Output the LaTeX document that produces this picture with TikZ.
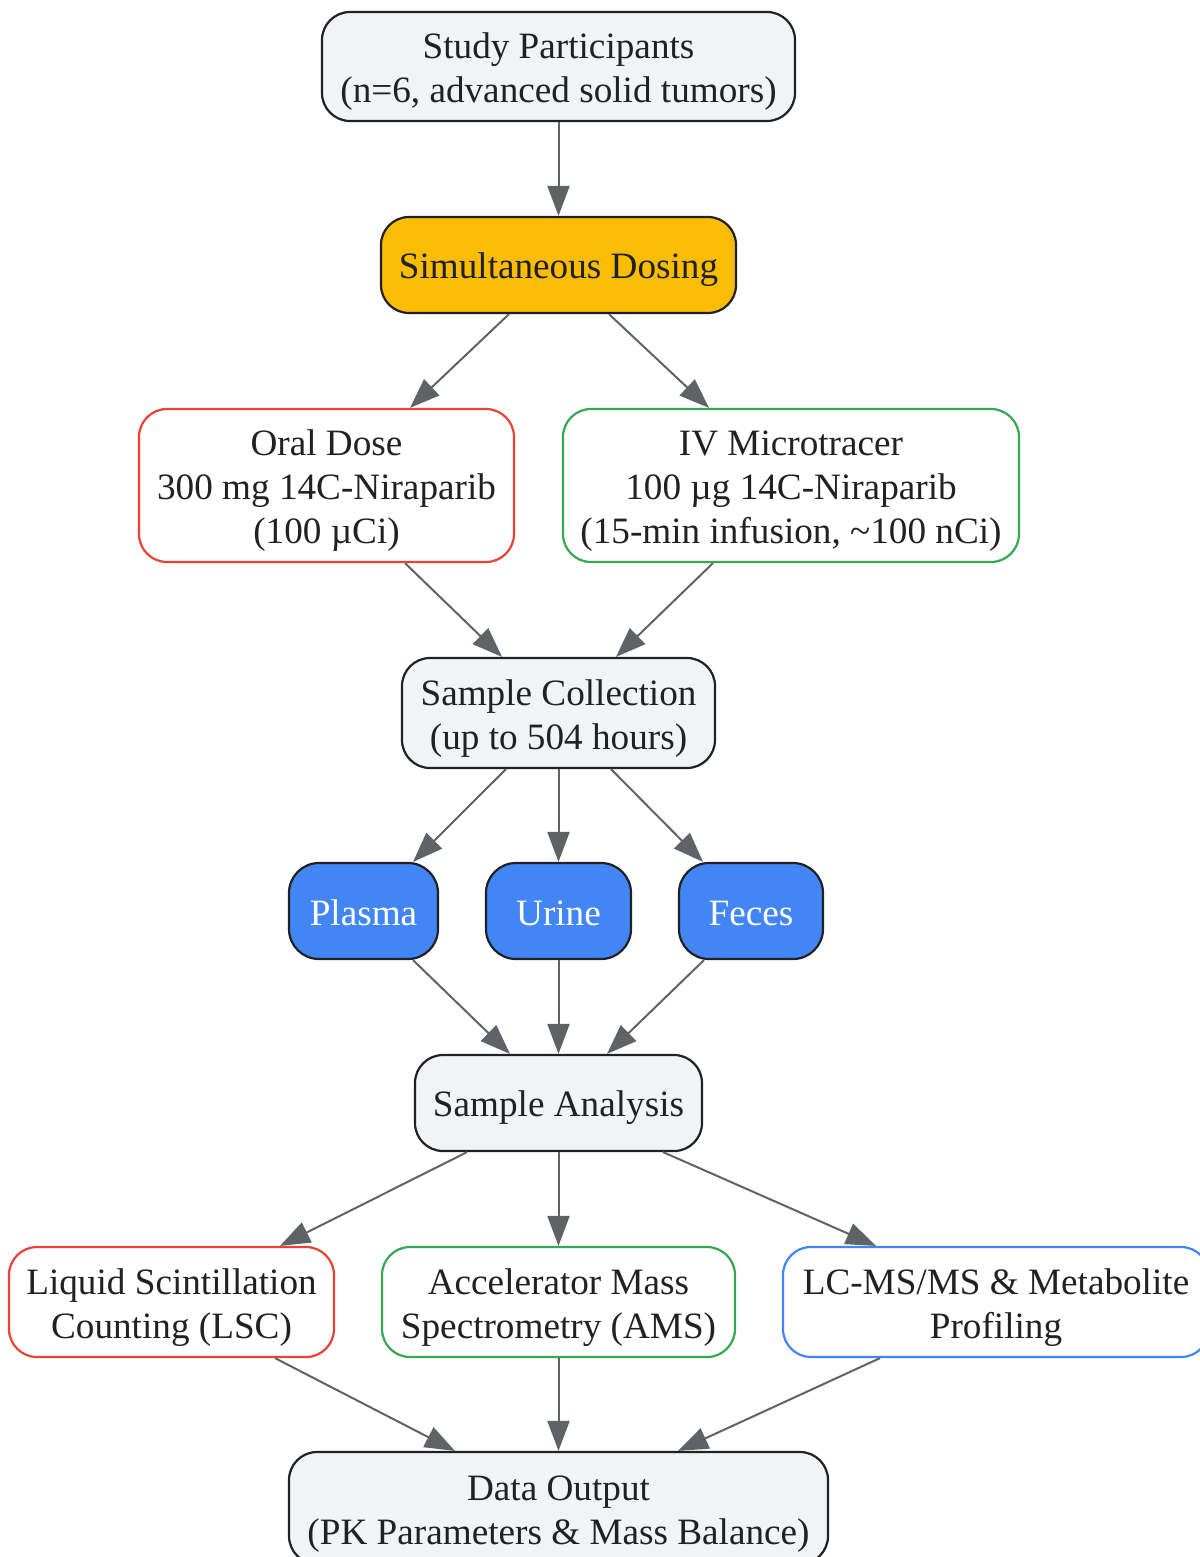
\documentclass[tikz,border=0pt]{standalone}
\usepackage{fontspec}
\setmainfont{Liberation Serif}
\usetikzlibrary{arrows.meta,calc}
\definecolor{gfill}{HTML}{F1F3F4}
\definecolor{bord}{HTML}{202124}
\definecolor{txt}{HTML}{202124}
\definecolor{gyellow}{HTML}{FBBC04}
\definecolor{gred}{HTML}{EA4335}
\definecolor{ggreen}{HTML}{34A853}
\definecolor{gblue}{HTML}{4285F4}
\definecolor{arr}{HTML}{5F6368}
\newcommand\mytopstrut{\rule{0pt}{18pt}}
\newcommand\mybotstrut{\rule[-4pt]{0pt}{4pt}}
\begin{document}
\begin{tikzpicture}[x=0.5pt,y=-0.5pt,
  box/.style={draw=bord, line width=1.1pt, rounded corners=14pt, align=center, inner sep=0pt,
    font=\fontsize{18.6}{22}\selectfont, text=txt},
  graybox/.style={box, fill=gfill},
  yellowbox/.style={box, fill=gyellow},
  redbox/.style={box, fill=white, draw=gred},
  greenbox/.style={box, fill=white, draw=ggreen},
  blueline/.style={box, fill=white, draw=gblue},
  bluebox/.style={box, fill=gblue, text=white, rounded corners=15pt},
  conn/.style={draw=arr, line width=1pt, -{Triangle[length=15pt,width=11pt]}}]
\useasboundingbox[fill=white] (0,0) rectangle (1199,1557);

\node[graybox, minimum width=236.5pt, minimum height=54.5pt] (study) at (558.5,66.5)
  {\mytopstrut Study Participants\\(n=6, advanced solid tumors)\mybotstrut};
\node[yellowbox, minimum width=177.5pt, minimum height=48pt] (sim) at (558.5,265)
  {\mytopstrut Simultaneous Dosing\mybotstrut};
\node[redbox, minimum width=187.5pt, minimum height=76.5pt] (oral) at (326.5,485.5)
  {\mytopstrut Oral Dose\\300 mg 14C-Niraparib\\(100 µCi)\mybotstrut};
\node[greenbox, minimum width=228pt, minimum height=76.5pt] (iv) at (791,485.5)
  {\mytopstrut IV Microtracer\\100 µg 14C-Niraparib\\(15-min infusion, \textasciitilde100 nCi)\mybotstrut};
\node[graybox, minimum width=156.5pt, minimum height=55pt] (coll) at (558.5,713)
  {\mytopstrut Sample Collection\\(up to 504 hours)\mybotstrut};
\node[bluebox, minimum width=74.5pt, minimum height=48pt] (plasma) at (363.5,911)
  {\mytopstrut Plasma\mybotstrut};
\node[bluebox, minimum width=72.5pt, minimum height=48pt] (urine) at (558.5,911)
  {\mytopstrut Urine\mybotstrut};
\node[bluebox, minimum width=72pt, minimum height=48pt] (feces) at (751,911)
  {\mytopstrut Feces\mybotstrut};
\node[graybox, minimum width=143.5pt, minimum height=48pt] (ana) at (558.5,1103)
  {\mytopstrut Sample Analysis\mybotstrut};
\node[redbox, minimum width=162.5pt, minimum height=55pt] (lsc) at (171.5,1302)
  {\mytopstrut Liquid Scintillation\\Counting (LSC)\mybotstrut};
\node[greenbox, minimum width=176.5pt, minimum height=55pt] (ams) at (558.5,1302)
  {\mytopstrut Accelerator Mass\\Spectrometry (AMS)\mybotstrut};
\node[blueline, minimum width=213pt, minimum height=55pt] (lcms) at (996,1302)
  {\mytopstrut LC-MS/MS \& Metabolite\\Profiling\mybotstrut};
\node[graybox, minimum width=269.5pt, minimum height=56pt] (data) at (558.5,1508)
  {\mytopstrut Data Output\\(PK Parameters \& Mass Balance)\mybotstrut};

\draw[conn] (study.south) -- (sim.north);
\draw[conn] ($(sim.south)+(-49.5,0)$) -- ($(oral.north)+(83.5,0)$);
\draw[conn] ($(sim.south)+(50.5,0)$) -- ($(iv.north)+(-82,0)$);
\draw[conn] ($(oral.south)+(78.5,0)$) -- ($(coll.north)+(-56.5,0)$);
\draw[conn] ($(iv.south)+(-78,0)$) -- ($(coll.north)+(57.5,0)$);
\draw[conn] ($(coll.south)+(-52.5,0)$) -- ($(plasma.north)+(49.5,0)$);
\draw[conn] (coll.south) -- (urine.north);
\draw[conn] ($(coll.south)+(52.5,0)$) -- ($(feces.north)+(-48,0)$);
\draw[conn] ($(plasma.south)+(49.5,0)$) -- ($(ana.north)+(-48.5,0)$);
\draw[conn] (urine.south) -- (ana.north);
\draw[conn] ($(feces.south)+(-47,0)$) -- ($(ana.north)+(48.5,0)$);
\draw[conn] ($(ana.south)+(-91.5,0)$) -- ($(lsc.north)+(108.5,0)$);
\draw[conn] (ana.south) -- (ams.north);
\draw[conn] ($(ana.south)+(104.5,0)$) -- ($(lcms.north)+(-120,0)$);
\draw[conn] ($(lsc.south)+(103.5,0)$) -- ($(data.north)+(-103.5,0)$);
\draw[conn] (ams.south) -- (data.north);
\draw[conn] ($(lcms.south)+(-116,0)$) -- ($(data.north)+(119.5,0)$);
\end{tikzpicture}
\end{document}
